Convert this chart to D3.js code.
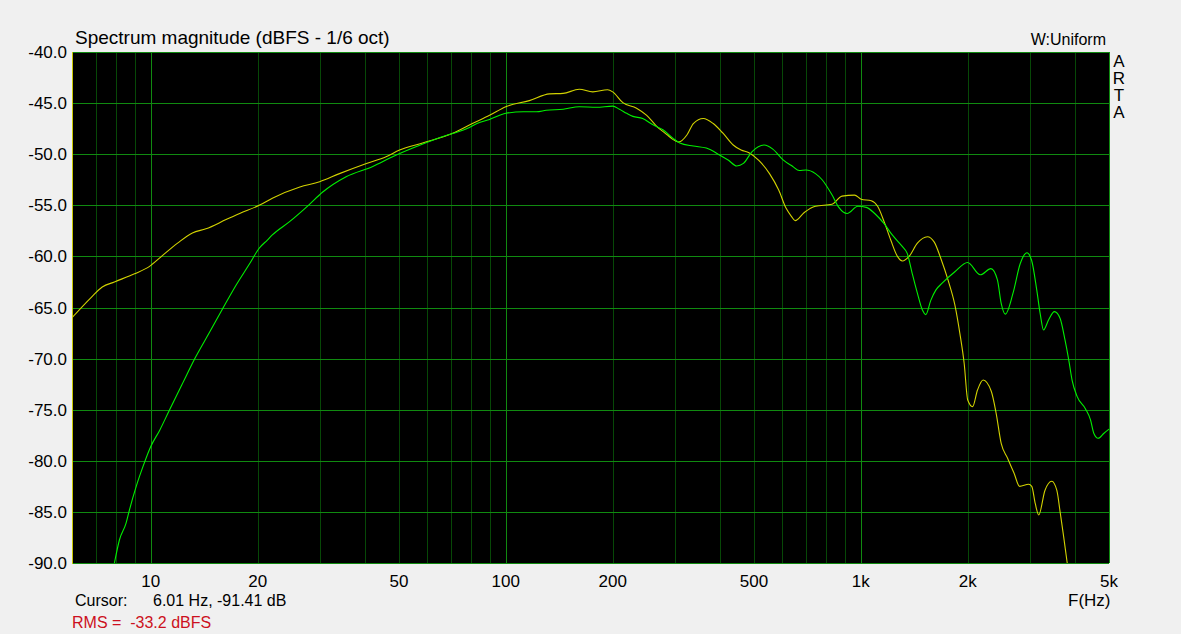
<!DOCTYPE html>
<html>
<head>
<meta charset="utf-8">
<script src="https://cdn.jsdelivr.net/npm/d3@7"></script>
<style>
  body { margin: 0; background: #f0f0f0; }
  svg text { font-family: "Liberation Sans", Arial, sans-serif; font-size: 16px; fill: #000; }
</style>
</head>
<body>
<div id="chart"></div>
<script>
// yellow trace (freq Hz, dB)
var yellowFreq = [6, 6.8, 7.3, 7.9, 9.0, 9.9, 10.8, 11.9, 13.1, 14.3, 16.3, 17.8, 20.2, 22.0, 26.3, 29.9, 34.0, 40.5, 46, 50.2, 58.3, 70.9, 80.8, 90, 100, 116.5, 132.8, 145, 161, 175.8, 193.5, 200, 213.7, 233.5, 249.4, 266.5, 284.7, 294, 307, 324, 337.5, 360, 384, 409, 437, 460, 484, 516, 553, 587, 616, 638, 653, 693, 745, 830, 885, 960, 1002, 1070, 1115, 1163, 1214, 1268, 1310, 1367, 1443, 1540, 1610, 1680, 1760, 1840, 1900, 1955, 2000, 2065, 2130, 2210, 2330, 2405, 2485, 2590, 2700, 2800, 2970, 3030, 3100, 3170, 3300, 3450, 3565, 3645, 3725, 3810, 3850];
var yellowDb = [-66.0, -64.0, -63.0, -62.5, -61.7, -61.0, -59.9, -58.7, -57.7, -57.3, -56.4, -55.8, -55.0, -54.3, -53.2, -52.7, -51.9, -50.9, -50.25, -49.6, -48.9, -47.95, -46.98, -46.2, -45.35, -44.76, -44.1, -44.05, -43.65, -43.9, -43.7, -43.9, -44.96, -45.5, -46.2, -47.3, -48.1, -48.5, -48.8, -48.1, -47.0, -46.5, -47.0, -47.95, -49.1, -49.6, -49.85, -50.6, -51.9, -53.5, -55.3, -56.1, -56.5, -55.7, -55.1, -54.9, -54.1, -54.0, -54.4, -54.55, -55.1, -56.6, -58.4, -60.0, -60.45, -60.0, -58.7, -58.07, -58.6, -60.2, -62.3, -64.75, -67.5, -70.5, -74.05, -74.7, -73.1, -72.1, -73.2, -75.35, -78.3, -79.75, -81.2, -82.5, -82.3, -82.5, -84.2, -85.3, -82.9, -82.0, -82.9, -85.1, -87.4, -89.9, -91.0];

// green trace (freq Hz, dB)
var greenFreq = [7.7, 7.9, 8.16, 8.52, 8.71, 9.1, 9.5, 10.0, 10.6, 11.3, 12.3, 13.4, 14.6, 15.95, 17.4, 19.0, 20.2, 21.3, 22.0, 24.6, 27.8, 30.5, 35.5, 42.2, 48, 54.7, 65, 77.5, 84.3, 90, 100, 112, 122, 130, 145, 161, 180, 200, 209, 219, 228, 243, 259, 277, 296, 309, 337.5, 367, 401, 424, 447, 467, 494, 534, 565, 604, 643, 671, 700, 745, 778, 830, 867, 915, 981, 1036, 1094, 1163, 1226, 1310, 1351, 1395, 1443, 1491, 1524, 1574, 1626, 1697, 1840, 1998, 2170, 2325, 2425, 2485, 2553, 2683, 2812, 2937, 3025, 3130, 3200, 3270, 3380, 3510, 3640, 3760, 3850, 3935, 4065, 4290, 4435, 4530, 4660, 4840, 5000];
var greenDb = [-92.0, -90.0, -87.75, -86.1, -84.8, -82.5, -80.6, -78.6, -77.0, -75.0, -72.4, -69.8, -67.5, -65.1, -62.8, -60.7, -59.2, -58.4, -57.9, -56.6, -55.0, -53.7, -52.2, -51.2, -50.25, -49.4, -48.4, -47.5, -46.9, -46.6, -46.0, -45.85, -45.85, -45.7, -45.6, -45.35, -45.4, -45.3, -45.6, -46.0, -46.3, -46.5, -47.1, -47.6, -48.45, -48.9, -49.2, -49.4, -50.1, -50.6, -51.15, -50.9, -49.75, -49.1, -49.5, -50.55, -51.2, -51.6, -51.55, -51.9, -52.5, -54.0, -55.2, -55.8, -55.1, -55.2, -55.8, -56.8, -57.9, -59.05, -59.7, -61.65, -63.6, -65.25, -65.7, -64.3, -63.3, -62.6, -61.5, -60.6, -61.8, -61.2, -62.3, -64.6, -65.65, -63.6, -60.7, -59.65, -60.35, -63.3, -65.6, -67.2, -66.2, -65.4, -66.05, -68.2, -70.1, -72.1, -73.7, -74.9, -76.0, -77.3, -77.8, -77.3, -76.9];

// axis ticks
var xTickValues = [10, 20, 50, 100, 200, 500, 1000, 2000, 5000];
var xTickLabels = ["10", "20", "50", "100", "200", "500", "1k", "2k", "5k"];
var yTickValues = [-40, -45, -50, -55, -60, -65, -70, -75, -80, -85, -90];
var xMinorValues = [7, 8, 9, 20, 30, 40, 50, 60, 70, 80, 90, 200, 300, 400, 500, 600, 700, 800, 900, 2000, 3000, 4000];

var width = 1181, height = 634;
var margin = {left: 72, top: 52, right: 72, bottom: 71};
var plotW = width - margin.left - margin.right;
var plotH = height - margin.top - margin.bottom;

var svg = d3.select("#chart")
  .append("svg")
  .attr("width", width)
  .attr("height", height);

var x = d3.scaleLog().domain([6, 5000]).range([margin.left, margin.left + plotW]);
var y = d3.scaleLinear().domain([-90, -40]).range([margin.top + plotH, margin.top]);

// plot background
svg.append("rect")
  .attr("x", margin.left).attr("y", margin.top)
  .attr("width", plotW).attr("height", plotH)
  .attr("fill", "#000");

svg.append("clipPath").attr("id", "clip")
  .append("rect")
  .attr("x", margin.left).attr("y", margin.top)
  .attr("width", plotW).attr("height", plotH);

var grid = svg.append("g").attr("shape-rendering", "crispEdges");

// minor vertical grid
grid.selectAll(".vminor")
  .data(xMinorValues)
  .enter().append("line")
  .attr("x1", function(d) { return Math.round(x(d)) + 0.5; })
  .attr("x2", function(d) { return Math.round(x(d)) + 0.5; })
  .attr("y1", margin.top).attr("y2", margin.top + plotH)
  .attr("stroke", "#074807");

// decade lines are brighter
grid.selectAll(".vmajor")
  .data([10, 100, 1000])
  .enter().append("line")
  .attr("x1", function(d) { return Math.round(x(d)) + 0.5; })
  .attr("x2", function(d) { return Math.round(x(d)) + 0.5; })
  .attr("y1", margin.top).attr("y2", margin.top + plotH)
  .attr("stroke", "#108a10");

// horizontal grid
grid.selectAll(".h")
  .data(yTickValues)
  .enter().append("line")
  .attr("x1", margin.left).attr("x2", margin.left + plotW)
  .attr("y1", function(d) { return Math.round(y(d)) + 0.5; })
  .attr("y2", function(d) { return Math.round(y(d)) + 0.5; })
  .attr("stroke", "#108a10");

// border: right in green, left in yellow
grid.append("line")
  .attr("x1", margin.left + plotW + 0.5).attr("x2", margin.left + plotW + 0.5)
  .attr("y1", margin.top).attr("y2", margin.top + plotH)
  .attr("stroke", "#108a10");
grid.append("line")
  .attr("x1", margin.left + 0.5).attr("x2", margin.left + 0.5)
  .attr("y1", margin.top).attr("y2", margin.top + plotH + 1)
  .attr("stroke", "#c8c800");

// traces
var line = d3.line()
  .x(function(d) { return x(d[0]); })
  .y(function(d) { return y(d[1]); })
  .curve(d3.curveMonotoneX);

var yellowData = d3.zip(yellowFreq, yellowDb);
var greenData = d3.zip(greenFreq, greenDb);

var traces = svg.append("g").attr("clip-path", "url(#clip)");
traces.append("path")
  .datum(yellowData)
  .attr("d", line)
  .attr("fill", "none")
  .attr("stroke", "#d2d200")
  .attr("stroke-width", 1.1);
traces.append("path")
  .datum(greenData)
  .attr("d", line)
  .attr("fill", "none")
  .attr("stroke", "#00f000")
  .attr("stroke-width", 1.1);

// y labels
svg.selectAll(".ylab")
  .data(yTickValues)
  .enter().append("text")
  .attr("x", 67)
  .attr("y", function(d) { return y(d) + 6; })
  .attr("text-anchor", "end")
  .style("font-size", "17px")
  .text(function(d) { return d.toFixed(1); });

// x labels
svg.selectAll(".xlab")
  .data(xTickValues)
  .enter().append("text")
  .attr("x", function(d) { return x(d); })
  .attr("y", 587)
  .attr("text-anchor", "middle")
  .style("font-size", "17px")
  .text(function(d, i) { return xTickLabels[i]; });

// titles and info text
svg.append("text").attr("x", 75).attr("y", 44)
  .style("font-size", "19px")
  .text("Spectrum magnitude (dBFS - 1/6 oct)");
svg.append("text").attr("x", 1106).attr("y", 45).attr("text-anchor", "end").text("W:Uniform");
svg.selectAll(".arta")
  .data(["A", "R", "T", "A"])
  .enter().append("text")
  .attr("x", 1119)
  .attr("y", function(d, i) { return 67 + i * 17; })
  .attr("text-anchor", "middle")
  .style("font-size", "17px")
  .text(function(d) { return d; });
svg.append("text").attr("x", 75).attr("y", 606).text("Cursor:");
svg.append("text").attr("x", 153).attr("y", 606).text("6.01 Hz, -91.41 dB");
svg.append("text").attr("x", 1068).attr("y", 606).style("font-size", "17px").text("F(Hz)");
svg.append("text").attr("x", 72).attr("y", 628)
  .style("fill", "#cc1020")
  .attr("xml:space", "preserve")
  .text("RMS =  -33.2 dBFS");
</script>
</body>
</html>
